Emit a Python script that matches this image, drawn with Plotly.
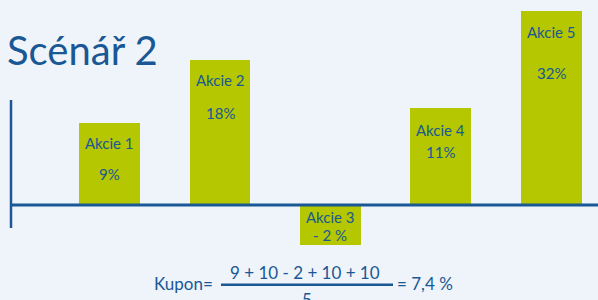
import plotly.graph_objects as go

# ---- data ----
categories = ["Akcie 1", "Akcie 2", "Akcie 3", "Akcie 4", "Akcie 5"]
# visual bar heights (slide is schematic, not to scale), units relative to baseline
bar_heights = [82, 145, -40, 97, 194]
return_labels = ["9%", "18%", "- 2 %", "11%", "32%"]
title_text = "Scénář 2"
formula_left = "Kupon="
formula_numerator = "9 + 10 - 2 + 10 + 10"
formula_denominator = "5"
formula_result = "= 7,4 %"

# ---- layout / style ----
W, H = 598, 300
BLUE = "#195894"
GREEN = "#b4c700"
BG = "#eff3fa"
FONT = "Lato"

# label vertical positions (in y-axis units)
name_y = [62, 125, -12, 75, 173]
value_y = [31, 92, -30, 53, 132]

fig = go.Figure()
fig.add_trace(go.Bar(
    x=categories, y=bar_heights,
    marker=dict(color=GREEN, line=dict(width=0)),
    width=0.552, hoverinfo="skip", showlegend=False,
))

ann = []
for c, n_y, v_y, lab in zip(categories, name_y, value_y, return_labels):
    ann.append(dict(x=c, y=n_y, xref="x", yref="y", text=c, showarrow=False,
                    font=dict(family=FONT, size=15, color=BLUE)))
    ann.append(dict(x=c, y=v_y, xref="x", yref="y", text=lab, showarrow=False,
                    font=dict(family=FONT, size=15, color=BLUE)))

def px(x):
    return x / W

def py(y):
    return 1 - y / H

ann.append(dict(x=px(5), y=py(50), xref="paper", yref="paper", text=title_text,
                xanchor="left", yanchor="middle", showarrow=False,
                font=dict(family=FONT, size=40, color=BLUE)))
ann.append(dict(x=px(152), y=py(283), xref="paper", yref="paper", text=formula_left,
                xanchor="left", yanchor="middle", showarrow=False,
                font=dict(family=FONT, size=17, color=BLUE)))
ann.append(dict(x=px(305), y=py(272), xref="paper", yref="paper", text=formula_numerator,
                xanchor="center", yanchor="middle", showarrow=False,
                font=dict(family=FONT, size=17, color=BLUE)))
ann.append(dict(x=px(307), y=py(299), xref="paper", yref="paper", text=formula_denominator,
                xanchor="center", yanchor="middle", showarrow=False,
                font=dict(family=FONT, size=17, color=BLUE)))
ann.append(dict(x=px(395), y=py(283), xref="paper", yref="paper", text=formula_result,
                xanchor="left", yanchor="middle", showarrow=False,
                font=dict(family=FONT, size=17, color=BLUE)))

shapes = [
    # horizontal axis (baseline)
    dict(type="line", xref="paper", yref="y", x0=px(11), x1=1, y0=0, y1=0,
         line=dict(color=BLUE, width=3)),
    # vertical axis stub
    dict(type="line", xref="paper", yref="paper", x0=px(11), x1=px(11), y0=py(100), y1=py(228),
         line=dict(color=BLUE, width=2.5)),
    # fraction bar
    dict(type="line", xref="paper", yref="paper", x0=px(221), x1=px(393), y0=py(284.7), y1=py(284.7),
         line=dict(color=BLUE, width=2.5)),
]

fig.update_layout(
    width=W, height=H,
    margin=dict(l=0, r=0, t=0, b=0),
    paper_bgcolor=BG, plot_bgcolor=BG,
    xaxis=dict(visible=False, range=[-0.991, 4.421], fixedrange=True),
    yaxis=dict(visible=False, range=[-95, 205], fixedrange=True),
    annotations=ann, shapes=shapes, bargap=0,
)

fig.write_html(
    "out.html",
    config={"displayModeBar": False},
    post_script="document.body.style.margin='0';document.body.style.overflow='hidden';"
                "document.body.style.background='" + BG + "';",
)
